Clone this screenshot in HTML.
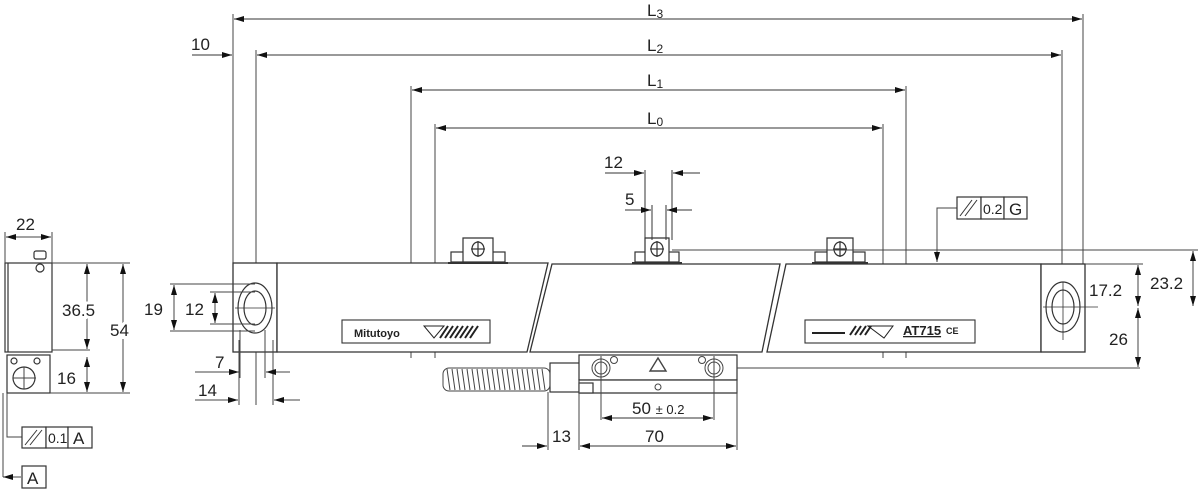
<!DOCTYPE html>
<html><head><meta charset="utf-8"><style>
html,body{margin:0;padding:0;background:#fff;}
svg{display:block;}
text{font-family:"Liberation Sans",sans-serif;fill:#222;}
.h{stroke:#fff;stroke-width:6px;paint-order:stroke;}
</style></head><body>
<svg width="1200" height="492" viewBox="0 0 1200 492" xmlns="http://www.w3.org/2000/svg">
<defs>
<marker id="a" viewBox="0 0 10 6" refX="10" refY="3" markerWidth="10" markerHeight="6" orient="auto-start-reverse" markerUnits="userSpaceOnUse"><path d="M0,0L10,3L0,6z" fill="#111"/></marker>
</defs>
<g stroke="#444" stroke-width="1" fill="none">
<line x1="233" y1="14" x2="233" y2="352"/>
<line x1="256" y1="50" x2="256" y2="405"/>
<line x1="411" y1="86" x2="411" y2="358"/>
<line x1="435" y1="124" x2="435" y2="358"/>
<line x1="883" y1="124" x2="883" y2="358"/>
<line x1="906" y1="86" x2="906" y2="358"/>
<line x1="1062" y1="50" x2="1062" y2="350"/>
<line x1="1083" y1="14" x2="1083" y2="265"/>
</g>
<g stroke="#333" stroke-width="1" fill="none" marker-start="url(#a)" marker-end="url(#a)">
<line x1="234" y1="19" x2="1082" y2="19"/>
<line x1="257" y1="55" x2="1061" y2="55"/>
<line x1="412" y1="90" x2="905" y2="90"/>
<line x1="436" y1="128" x2="882" y2="128"/>
</g>
<text x="647" y="16" font-size="17">L<tspan font-size="12" dy="2">3</tspan></text>
<text x="647" y="51" font-size="17">L<tspan font-size="12" dy="2">2</tspan></text>
<text x="647" y="86" font-size="17">L<tspan font-size="12" dy="2">1</tspan></text>
<text x="647" y="124" font-size="17">L<tspan font-size="12" dy="2">0</tspan></text>
<text x="191" y="50" font-size="17">10</text>
<g stroke="#333" fill="none">
<line x1="192" y1="55" x2="232" y2="55" marker-end="url(#a)"/>
</g>

<g stroke="#333" stroke-width="1.3" fill="#fff">
<rect x="233" y="263" width="44" height="89"/>
<path d="M277,263 L548,263 L527,352 L277,352 Z"/>
<path d="M552,264 L780,264 L762,352 L530,352 Z"/>
<path d="M786,264 L1041,264 L1041,352 L767,352 Z"/>
<rect x="1041" y="264" width="44" height="88"/>
</g>
<g stroke="#333" stroke-width="1.2" fill="none">
<ellipse cx="255" cy="308" rx="17" ry="25"/>
<ellipse cx="255" cy="308" rx="11" ry="17"/>
<ellipse cx="1063" cy="307" rx="17" ry="25"/>
<ellipse cx="1063" cy="307" rx="11" ry="17"/>
<line x1="235" y1="308" x2="275" y2="308" stroke-width=".8"/>
<line x1="1043" y1="307" x2="1098" y2="307" stroke-width=".8"/>
<line x1="1063" y1="282" x2="1063" y2="340" stroke-width=".8"/>
</g>
<g stroke="#333" stroke-width="1.2" fill="#fff">
<g transform="translate(478,0)">
<rect x="-27" y="252" width="14" height="10"/><rect x="13" y="252" width="14" height="10"/>
<path d="M-15,262 L-15,238 L15,238 L15,262 Z"/>
<ellipse cx="0" cy="249" rx="6" ry="7"/><line x1="-7" y1="249" x2="7" y2="249"/><line x1="0" y1="241" x2="0" y2="257"/>
<line x1="-30" y1="263" x2="30" y2="263" stroke-width="2"/>
</g>
<g transform="translate(657,0)">
<rect x="-22" y="252" width="14" height="10"/><rect x="8" y="252" width="14" height="10"/>
<path d="M-12,262 L-12,238 L12,238 L12,262 Z"/>
<ellipse cx="0" cy="249" rx="6" ry="7"/><line x1="-7" y1="249" x2="7" y2="249"/><line x1="0" y1="241" x2="0" y2="257"/>
<line x1="-25" y1="263" x2="25" y2="263" stroke-width="2"/>
</g>
<g transform="translate(840,0)">
<rect x="-25" y="252" width="14" height="10"/><rect x="11" y="252" width="14" height="10"/>
<path d="M-13,262 L-13,238 L13,238 L13,262 Z"/>
<ellipse cx="0" cy="249" rx="6" ry="7"/><line x1="-7" y1="249" x2="7" y2="249"/><line x1="0" y1="241" x2="0" y2="257"/>
<line x1="-28" y1="263" x2="28" y2="263" stroke-width="2"/>
</g>
</g>
<g stroke="#333" fill="none">
<line x1="645" y1="170" x2="645" y2="240"/><line x1="672" y1="170" x2="672" y2="240"/>
<line x1="652" y1="205" x2="652" y2="240"/><line x1="666" y1="205" x2="666" y2="240"/>
<line x1="605" y1="173" x2="644" y2="173" marker-end="url(#a)"/>
<line x1="700" y1="173" x2="673" y2="173" marker-end="url(#a)"/>
<line x1="625" y1="210" x2="651" y2="210" marker-end="url(#a)"/>
<line x1="692" y1="210" x2="667" y2="210" marker-end="url(#a)"/>
</g>
<text x="604" y="168" font-size="17">12</text>
<text x="625" y="205" font-size="17">5</text>

<g stroke="#333" fill="#fff" stroke-width="1.1">
<rect x="342" y="320" width="148" height="23"/>
<rect x="805" y="320" width="170" height="23"/>
</g>
<text x="354" y="337" font-size="11" font-weight="bold" fill="#222">Mitutoyo</text>
<path d="M424,326 L444,326 L434,338 Z" fill="none" stroke="#222"/>
<g stroke="#222" stroke-width="2"><line x1="440" y1="338" x2="448" y2="326"/><line x1="445" y1="338" x2="453" y2="326"/><line x1="450" y1="338" x2="458" y2="326"/><line x1="455" y1="338" x2="463" y2="326"/><line x1="460" y1="338" x2="468" y2="326"/><line x1="465" y1="338" x2="473" y2="326"/><line x1="470" y1="338" x2="478" y2="326"/></g>
<line x1="812" y1="333" x2="845" y2="333" stroke="#222" stroke-width="2"/>
<g stroke="#222" stroke-width="2"><line x1="850" y1="335" x2="856" y2="326"/><line x1="855" y1="335" x2="861" y2="326"/><line x1="860" y1="335" x2="866" y2="326"/><line x1="865" y1="335" x2="871" y2="326"/></g>
<path d="M868,326 L893,326 L884,338 Z" fill="none" stroke="#222"/>
<text x="903" y="335" font-size="13" font-weight="bold" text-decoration="underline">AT715</text>
<text x="946" y="334" font-size="9" font-weight="bold">CE</text>

<g stroke="#333" stroke-width="1.2" fill="#fff">
<rect x="550" y="363" width="30" height="29"/>
<rect x="579" y="355" width="158" height="25"/>
<path d="M579,380 L737,380 L737,393 L579,393 Z"/>
<rect x="579" y="383" width="14" height="10"/>
</g>
<g stroke="#444" stroke-width="1" fill="none">
<rect x="443" y="368" width="107" height="23" rx="6"/>
<path d="M447,369 l3,21 M452,369 l3,21 M457,369 l3,21 M462,369 l3,21 M467,369 l3,21 M472,369 l3,21 M477,369 l3,21 M482,369 l3,21 M487,369 l3,21 M492,369 l3,21 M497,369 l3,21 M502,369 l3,21 M507,369 l3,21 M512,369 l3,21 M517,369 l3,21 M522,369 l3,21 M527,369 l3,21 M532,369 l3,21 M537,369 l3,21 M542,369 l3,21"/>
<circle cx="601" cy="368" r="9"/><circle cx="601" cy="368" r="6"/>
<circle cx="714" cy="368" r="9"/><circle cx="714" cy="368" r="6"/>
<circle cx="614" cy="360" r="3.5"/><circle cx="702" cy="360" r="3.5"/>
<circle cx="658" cy="387" r="3"/>
<path d="M650,371 L666,371 L658,358 Z" stroke-width="1.4"/>
<line x1="601" y1="356" x2="601" y2="420"/><line x1="714" y1="356" x2="714" y2="420"/>
<line x1="579" y1="380" x2="579" y2="450"/><line x1="737" y1="380" x2="737" y2="450"/>
<line x1="548" y1="392" x2="548" y2="450"/>
<line x1="737" y1="368" x2="1140" y2="368"/>
</g>
<g stroke="#333" fill="none">
<line x1="602" y1="418" x2="713" y2="418" marker-start="url(#a)" marker-end="url(#a)"/>
<line x1="580" y1="446" x2="736" y2="446" marker-start="url(#a)" marker-end="url(#a)"/>
<line x1="522" y1="446" x2="547" y2="446" marker-end="url(#a)"/>
</g>
<text x="632" y="414" font-size="17">50 <tspan font-size="13">± 0.2</tspan></text>
<text x="645" y="442" font-size="17">70</text>
<text x="552" y="442" font-size="17">13</text>

<g stroke="#444" fill="none">
<line x1="672" y1="250" x2="1198" y2="250"/>
<line x1="1085" y1="264" x2="1143" y2="264"/>
<line x1="1193" y1="251" x2="1193" y2="306" marker-start="url(#a)" marker-end="url(#a)"/>
<line x1="1138" y1="265" x2="1138" y2="306" marker-start="url(#a)" marker-end="url(#a)"/>
<line x1="1138" y1="308" x2="1138" y2="367" marker-start="url(#a)" marker-end="url(#a)"/>
<polyline points="957,208 937,208 937,262" marker-end="url(#a)"/>
</g>
<text x="1089" y="296" font-size="17" class="h">17.2</text>
<text x="1150" y="289" font-size="17" class="h">23.2</text>
<text x="1109" y="345" font-size="17" class="h">26</text>
<g stroke="#333" fill="#fff" stroke-width="1.2">
<rect x="957" y="197" width="24" height="22"/><rect x="981" y="197" width="23" height="22"/><rect x="1004" y="197" width="23" height="22"/>
</g>
<line x1="960" y1="216" x2="972" y2="200" stroke="#333"/><line x1="965" y1="216" x2="977" y2="200" stroke="#333"/>
<text x="983" y="214" font-size="14">0.2</text>
<text x="1009" y="215" font-size="17">G</text>

<g stroke="#444" fill="none">
<line x1="170" y1="284" x2="255" y2="284"/>
<line x1="170" y1="331" x2="255" y2="331"/>
<line x1="210" y1="292" x2="255" y2="292"/>
<line x1="210" y1="324" x2="255" y2="324"/>
<line x1="174" y1="285" x2="174" y2="330" marker-start="url(#a)" marker-end="url(#a)"/>
<line x1="215" y1="293" x2="215" y2="323" marker-start="url(#a)" marker-end="url(#a)"/>
<line x1="240" y1="330" x2="240" y2="378"/><line x1="265" y1="330" x2="265" y2="378"/>
<line x1="239" y1="340" x2="239" y2="405"/><line x1="273" y1="340" x2="273" y2="405"/>
<line x1="195" y1="372" x2="239" y2="372" marker-end="url(#a)"/>
<line x1="290" y1="372" x2="266" y2="372" marker-end="url(#a)"/>
<line x1="195" y1="400" x2="238" y2="400" marker-end="url(#a)"/>
<line x1="300" y1="400" x2="274" y2="400" marker-end="url(#a)"/>
</g>
<text x="144" y="315" font-size="17">19</text>
<text x="185" y="315" font-size="17">12</text>
<text x="215" y="368" font-size="17">7</text>
<text x="198" y="396" font-size="17">14</text>

<g stroke="#333" stroke-width="1.2" fill="#fff">
<rect x="5" y="263" width="47" height="89"/>
<line x1="8" y1="263" x2="8" y2="352"/>
<rect x="34" y="251" width="12" height="8" rx="2"/>
<circle cx="40" cy="268" r="4"/>
<rect x="7" y="355" width="43" height="38"/>
<circle cx="24" cy="378" r="11"/>
<circle cx="14" cy="361" r="3"/><circle cx="37" cy="361" r="3"/>
</g>
<g stroke="#444" fill="none">
<line x1="5" y1="232" x2="5" y2="263"/><line x1="52" y1="232" x2="52" y2="263"/>
<line x1="6" y1="237" x2="51" y2="237" marker-start="url(#a)" marker-end="url(#a)"/>
<line x1="52" y1="263" x2="130" y2="263"/>
<line x1="52" y1="350" x2="90" y2="350"/>
<line x1="50" y1="393" x2="130" y2="393"/>
<line x1="87" y1="264" x2="87" y2="349" marker-start="url(#a)" marker-end="url(#a)"/>
<line x1="87" y1="357" x2="87" y2="392" marker-start="url(#a)" marker-end="url(#a)"/>
<line x1="123" y1="264" x2="123" y2="392" marker-start="url(#a)" marker-end="url(#a)"/>
<line x1="13" y1="378" x2="36" y2="378"/><line x1="24" y1="367" x2="24" y2="389"/>
<polyline points="7,393 7,437 22,437"/>
<line x1="3" y1="393" x2="3" y2="477"/>
<line x1="3" y1="477" x2="21" y2="477" marker-start="url(#a)"/>
</g>
<text x="16" y="230" font-size="17">22</text>
<text x="62" y="316" font-size="17" class="h">36.5</text>
<text x="110" y="336" font-size="17" class="h">54</text>
<text x="57" y="384" font-size="17" class="h">16</text>
<g stroke="#333" fill="#fff" stroke-width="1.2">
<rect x="22" y="427" width="24" height="21"/><rect x="46" y="427" width="22" height="21"/><rect x="68" y="427" width="24" height="21"/>
<rect x="22" y="466" width="24" height="22"/>
</g>
<line x1="25" y1="445" x2="37" y2="430" stroke="#333"/><line x1="30" y1="445" x2="42" y2="430" stroke="#333"/>
<text x="48" y="443" font-size="14">0.1</text>
<text x="73" y="444" font-size="17">A</text>
<text x="27" y="484" font-size="17">A</text>
</svg>
</body></html>
